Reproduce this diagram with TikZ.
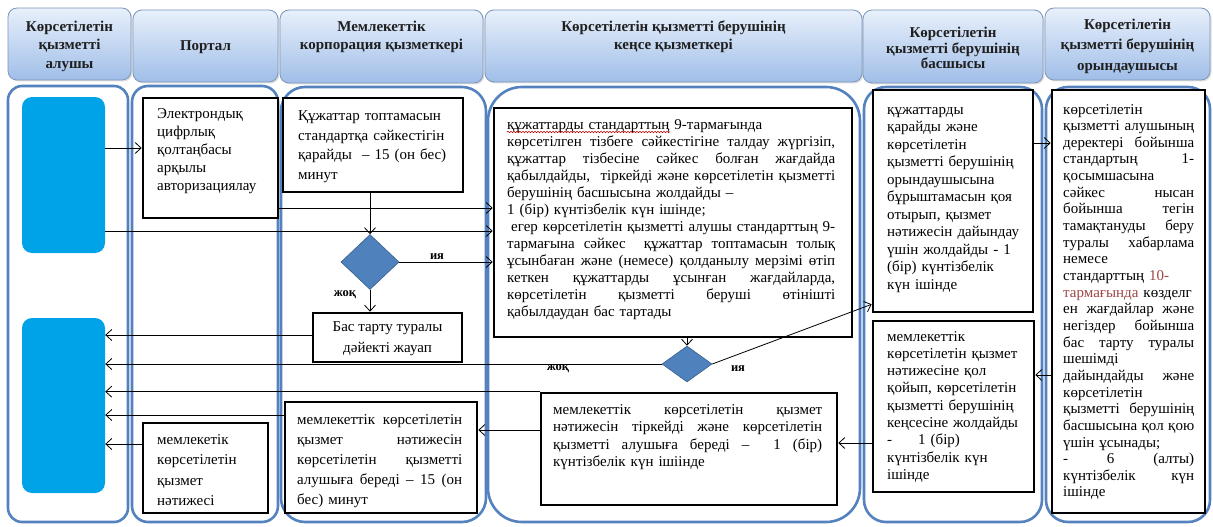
\documentclass[tikz,border=0pt]{standalone}
\usepackage{fontspec}
\setmainfont{Liberation Serif}
\usetikzlibrary{shapes.geometric,arrows.meta,decorations.pathmorphing,shadows}
\definecolor{lanec}{RGB}{84,130,190}
\definecolor{hdrtop}{RGB}{232,240,251}
\definecolor{hdrbot}{RGB}{160,190,232}
\definecolor{hdrline}{RGB}{125,150,186}
\definecolor{cyanbox}{RGB}{0,162,232}
\definecolor{diafill}{RGB}{79,129,189}
\definecolor{diaedge}{RGB}{56,93,138}
\definecolor{linkred}{RGB}{160,70,70}
\newcommand{\J}[1]{\makebox[\hsize][s]{\spaceskip=0.25em plus 20em\xspaceskip=0.3em plus 20em\relax #1}}
\tikzset{
  lanebox/.style={draw=lanec, line width=2.6pt, fill=white, rounded corners=#1},
  hdrbox/.style={draw=hdrline, line width=0.8pt, rounded corners=9pt, top color=hdrtop, bottom color=hdrbot,
     drop shadow={opacity=0.25, shadow xshift=1.5pt, shadow yshift=-1.5pt}, inner sep=0pt},
  htxt/.style={align=center, inner sep=0pt, text=black!88, font=\fontsize{15}{#1}\selectfont\bfseries},
  stepbox/.style={draw=black, line width=2.6pt, fill=white, inner sep=0pt},
  txt/.style={align=left, inner sep=0pt, anchor=base west, font=\fontsize{15}{#1}\selectfont},
  cyanrect/.style={fill=cyanbox, rounded corners=10pt, draw=none, inner sep=0pt},
  decision/.style={diamond, fill=diafill, draw=diaedge, line width=0.6pt, inner sep=0pt},
  arr/.style={draw=black, line width=0.8pt, -{Straight Barb[length=6pt,width=11pt]}},
  lbl/.style={inner sep=0pt, font=\fontsize{12.5}{14}\selectfont\bfseries}
}
\begin{document}
\begin{tikzpicture}[x=1pt,y=-1pt]
\useasboundingbox (0,0) rectangle (1213,527);
\fill[white] (0,0) rectangle (1213,527);

% headers
\node[hdrbox, minimum width=123, minimum height=72] (h1) at (69.5,44) {};
\node[hdrbox, minimum width=145, minimum height=72] (h2) at (205.5,46) {};
\node[hdrbox, minimum width=203, minimum height=73] (h3) at (381.5,46.5) {};
\node[hdrbox, minimum width=377, minimum height=72] (h4) at (673.5,46) {};
\node[hdrbox, minimum width=180, minimum height=73] (h5) at (953,46.5) {};
\node[hdrbox, minimum width=165, minimum height=72] (h6) at (1127.5,44) {};
\node[htxt=18.5] (h1t) at (69.5,46) {Көрсетілетін\\қызметті\\алушы};
\node[htxt=16] (h2t) at (205.5,47) {Портал};
\node[htxt=18] (h3t) at (381.5,37) {Мемлекеттік\\корпорация қызметкері};
\node[htxt=18] (h4t) at (673.5,37) {Көрсетілетін қызметті берушінің\\кеңсе қызметкері};
\node[htxt=15.5] (h5t) at (953,48) {Көрсетілетін\\қызметті берушінің\\басшысы};
\node[htxt=20.5] (h6t) at (1127.5,46) {Көрсетілетін\\қызметті берушінің\\орындаушысы};

% lanes
\draw[lanebox=14pt] (8,86) rectangle (128,522);
\draw[lanebox=16pt] (132,86) rectangle (278,522);
\draw[lanebox=24pt] (281,87) rectangle (486,522);
\draw[lanebox=34pt] (488,87) rectangle (860,522);
\draw[lanebox=22pt] (864,87) rectangle (1042,522);
\draw[lanebox=22pt] (1046,87) rectangle (1210,522);

% recipient blocks
\node[cyanrect, minimum width=83, minimum height=156] (blue1) at (63.5,175) {};
\node[cyanrect, minimum width=83, minimum height=175] (blue2) at (63.5,405.5) {};

% boxes
\node[stepbox, minimum width=135, minimum height=120] (pb) at (210.5,158) {};
\node[txt=18, text width=125] (pbt) at (157,118) {Электрондық\\цифрлық\\қолтаңбасы\\арқылы\\авторизациялау};

\node[stepbox, minimum width=180, minimum height=94] (b3) at (373,145) {};
\node[txt=19.5, text width=165] (b3t) at (298,121) {Құжаттар топтамасын\\стандартқа сәйкестігін\\қарайды \ – 15 (он бес)\\минут};

\node[stepbox, minimum width=358, minimum height=229] (bb) at (673,222.5) {};
\node[txt=17, text width=328] (bbt) at (507,129) {құжаттарды стандарттың 9-тармағында\\
\J{көрсетілген тізбеге сәйкестігіне талдау жүргізіп,}\\
\J{құжаттар тізбесіне сәйкес болған жағдайда}\\
\J{қабылдайды, \ тіркейді және көрсетілетін қызметті}\\
берушінің басшысына жолдайды –\\
1 (бір) күнтізбелік күн ішінде;\\
\J{\hspace*{4pt}егер көрсетілетін қызметті алушы стандарттың 9-}\\
\J{тармағына сәйкес \ құжаттар топтамасын толық}\\
\J{ұсынбаған және (немесе) қолданылу мерзімі өтіп}\\
\J{кеткен құжаттарды ұсынған жағдайларда,}\\
\J{көрсетілетін қызметті беруші өтінішті}\\
қабылдаудан бас тартады};
\draw[red!75!black, line width=0.6pt, decorate, decoration={snake, amplitude=0.7pt, segment length=3pt}] (507,132) -- (670,132);

\node[decision, minimum width=58, minimum height=55] (d1) at (370,262) {};
\node[stepbox, minimum width=149, minimum height=49] (bt) at (387.5,337.5) {};
\node[inner sep=0pt, align=center, font=\fontsize{15}{21}\selectfont] (btt) at (387.5,339) {Бас тарту туралы\\дәйекті жауап};

\node[decision, minimum width=50, minimum height=36] (d2) at (687,364) {};

\node[stepbox, minimum width=160, minimum height=222] (b5a) at (953,201) {};
\node[txt=17.5, text width=145] (b5at) at (887,114) {құжаттарды\\қарайды және\\көрсетілетін\\қызметті берушінің\\орындаушысына\\бұрыштамасын қоя\\отырып, қызмет\\нәтижесін дайындау\\үшін жолдайды - 1\\(бір) күнтізбелік\\күн ішінде};

\node[stepbox, minimum width=161, minimum height=171] (b5b) at (953.5,406.5) {};
\node[txt=17.3, text width=145] (b5bt) at (887,341) {мемлекеттік\\көрсетілетін қызмет\\нәтижесіне қол\\қойып, көрсетілетін\\қызметті берушінің\\кеңсесіне жолдайды\\-\hspace{26pt}1 (бір)\\күнтізбелік күн\\ішінде};

\node[stepbox, minimum width=153, minimum height=423] (b6) at (1128.5,301.5) {};
\node[txt=16.65, text width=131] (b6t) at (1063,114) {көрсетілетін\\
\J{қызметті алушының}\\
\J{деректері бойынша}\\
\J{стандартың 1-}\\
қосымшасына\\
\J{сәйкес нысан}\\
\J{бойынша тегін}\\
\J{тамақтануды беру}\\
\J{туралы хабарлама}\\
немесе\\
стандарттың \textcolor{linkred}{10-}\\
\textcolor{linkred}{тармағында} көзделг\\
\J{ен жағдайлар және}\\
\J{негіздер бойынша}\\
\J{бас тарту туралы}\\
шешімді\\
\J{дайындайды және}\\
көрсетілетін\\
\J{қызметті берушінің}\\
\J{басшысына қол қою}\\
үшін ұсынады;\\
\J{- 6 (алты)}\\
\J{күнтізбелік күн}\\
ішінде};

\node[stepbox, minimum width=296, minimum height=112] (b4b) at (689,449) {};
\node[txt=17.6, text width=269] (b4bt) at (553,414) {\J{мемлекеттік көрсетілетін қызмет}\\
\J{нәтижесін тіркейді және көрсетілетін}\\
\J{қызметті алушыға береді – \ 1 (бір)}\\
күнтізбелік күн ішіінде};

\node[stepbox, minimum width=192, minimum height=111] (b3b) at (381,457.5) {};
\node[txt=20, text width=165] (b3bt) at (297,424) {\J{мемлекеттік көрсетілетін}\\
\J{қызмет нәтижесін}\\
\J{көрсетілетін қызметті}\\
\J{алушыға береді – 15 (он}\\
бес) минут};

\node[stepbox, minimum width=125, minimum height=90] (b2b) at (205.5,468) {};
\node[txt=20.6, text width=110] (b2bt) at (157,444) {мемлекетік\\көрсетілетін\\қызмет\\нәтижесі};

% connectors
\draw[arr] (blue1.east |- 0,148) -- (pb.west |- 0,148);
\draw[arr] (blue1.east |- 0,231) -- (bb.west |- 0,231);
\draw[arr] (pb.east |- 0,208) -- (bb.west |- 0,208);
\draw[arr] (b3.south -| d1.north) -- (d1.north);
\draw[arr] (d1.east) -- (bb.west |- d1.east);
\node[lbl] (l1) at (437,257) {ия};
\draw[arr] (d1.south) -- (d1.south |- bt.north);
\node[lbl] (l2) at (345,295) {жоқ};
\draw[arr] (bt.west |- 0,335) -- (blue2.east |- 0,335);
\draw[arr] (bb.south -| d2.north) -- (d2.north);
\draw[arr] (d2.west) -- (blue2.east |- d2.west);
\node[lbl] (l3) at (558,369) {жоқ};
\draw[arr] (d2.east) -- ([yshift=9pt]b5a.south west);
\node[lbl] (l4) at (738,369) {ия};
\draw[arr] (b4b.north west) -- (blue2.east |- b4b.north west);
\draw[arr] (b4b.west |- 0,430) -- (b3b.east |- 0,430);
\draw[arr] (b3b.west |- 0,415) -- (blue2.east |- 0,415);
\draw[arr] (b2b.west |- 0,444) -- (blue2.east |- 0,444);
\draw[arr] (b5b.west |- 0,443) -- (b4b.east |- 0,443);
\draw[arr] (b6.west |- 0,375) -- (b5b.east |- 0,375);
\draw[arr] (b5a.east |- 0,143) -- (b6.west |- 0,143);
\end{tikzpicture}
\end{document}
